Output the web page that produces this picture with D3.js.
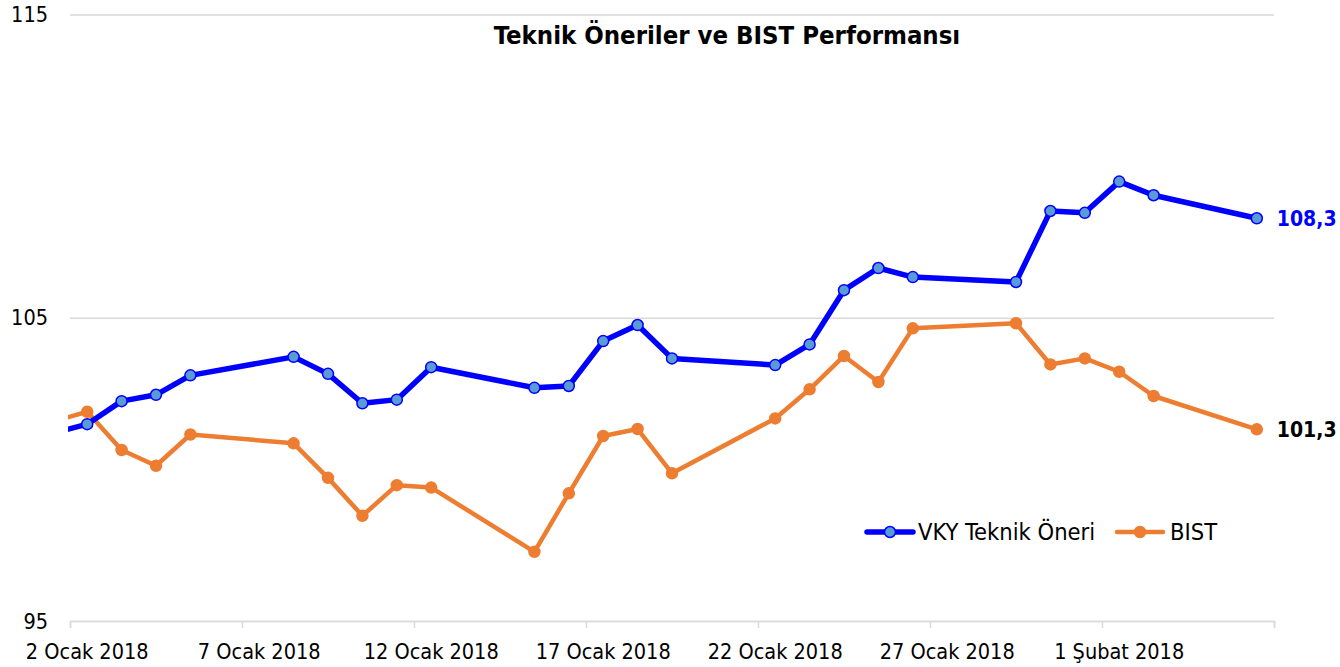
<!DOCTYPE html>
<html>
<head>
<meta charset="utf-8">
<script src="https://cdn.jsdelivr.net/npm/d3@7"></script>
<style>
  body { margin: 0; background: #fff; }
  svg text { font-family: "DejaVu Sans Condensed", "DejaVu Sans", sans-serif; fill: #000; }
</style>
</head>
<body>
<div id="graphic"></div>
<script>
// dates (trading days); the first one sits before the axis start and is clipped
const dates = ['2017-12-29', '2018-01-02', '2018-01-03', '2018-01-04', '2018-01-05',
	'2018-01-08', '2018-01-09', '2018-01-10', '2018-01-11', '2018-01-12',
	'2018-01-15', '2018-01-16', '2018-01-17', '2018-01-18', '2018-01-19',
	'2018-01-22', '2018-01-23', '2018-01-24', '2018-01-25', '2018-01-26',
	'2018-01-29', '2018-01-30', '2018-01-31', '2018-02-01', '2018-02-02',
	'2018-02-05'];

const vkyValues = [100.3, 101.49, 102.25, 102.46, 103.10,
	103.71, 103.15, 102.18, 102.30, 103.37,
	102.69, 102.75, 104.23, 104.76, 103.66,
	103.44, 104.12, 105.91, 106.64, 106.34,
	106.18, 108.52, 108.46, 109.49, 109.04,
	108.28];

const bistValues = [100.6, 101.90, 100.64, 100.12, 101.15,
	100.86, 99.72, 98.47, 99.48, 99.40,
	97.28, 99.21, 101.10, 101.33, 99.87,
	101.68, 102.64, 103.74, 102.88, 104.65,
	104.82, 103.46, 103.66, 103.22, 102.42,
	101.32];

const seriesNames = ['VKY Teknik Öneri', 'BIST'];
const yTicks = [95, 105, 115];
const xTickDates = ['2018-01-02', '2018-01-07', '2018-01-12', '2018-01-17', '2018-01-22', '2018-01-27', '2018-02-01'];
const monthNames = ['Ocak', 'Şubat', 'Mart', 'Nisan', 'Mayıs', 'Haziran', 'Temmuz', 'Ağustos', 'Eylül', 'Ekim', 'Kasım', 'Aralık'];
const chartTitle = 'Teknik Öneriler ve BIST Performansı';

const width = 1340, height = 667;
const margin = { top: 14.5, right: 66, bottom: 46, left: 70 };
const parseDate = d3.utcParse('%Y-%m-%d');
const halfDay = 12 * 3600 * 1000;

const graphicData = dates.map((d, i) => ({
	date: parseDate(d),
	vky: vkyValues[i],
	bist: bistValues[i]
}));

const svg = d3.select('#graphic')
	.append('svg')
	.attr('width', width)
	.attr('height', height);

const x = d3.scaleUtc()
	.domain([parseDate('2018-01-02'), parseDate('2018-02-06')])
	.range([margin.left, width - margin.right]);

const y = d3.scaleLinear()
	.domain([95, 115])
	.range([height - margin.bottom, margin.top]);

// grid lines
svg.append('g')
	.attr('class', 'grid')
	.attr('transform', `translate(${margin.left},0)`)
	.call(d3.axisLeft(y).tickValues(yTicks).tickSize(-(x.range()[1] - x.range()[0])).tickFormat(''))
	.call(g => g.select('.domain').remove())
	.call(g => g.selectAll('.tick line').attr('stroke', '#d9d9d9').attr('stroke-width', 1.5));

// y labels
svg.append('g')
	.selectAll('text')
	.data(yTicks)
	.join('text')
	.attr('x', 48)
	.attr('y', d => y(d))
	.attr('dy', '0.36em')
	.attr('text-anchor', 'end')
	.style('font-size', '21.5px')
	.text(d => d);

// x axis: tick marks on day boundaries, labels centred on the day slot
const xAxis = svg.append('g')
	.attr('class', 'x axis')
	.attr('transform', `translate(0,${y(95)})`);

xAxis.call(d3.axisBottom(x)
	.tickValues(xTickDates.map(parseDate).concat([parseDate('2018-02-06')]))
	.tickSize(7)
	.tickFormat(''))
	.call(g => g.select('.domain').attr('stroke', '#d9d9d9').attr('stroke-width', 1.5))
	.call(g => g.selectAll('.tick line').attr('stroke', '#d9d9d9').attr('stroke-width', 1.5));

xAxis.selectAll('text.xlabel')
	.data(xTickDates.map(parseDate))
	.join('text')
	.attr('class', 'xlabel')
	.attr('x', d => x(+d + halfDay))
	.attr('y', 38)
	.attr('text-anchor', 'middle')
	.style('font-size', '21.5px')
	.text(d => `${d.getUTCDate()} ${monthNames[d.getUTCMonth()]} ${d.getUTCFullYear()}`);

// clip so the pre-axis point is cut at the left edge
svg.append('clipPath')
	.attr('id', 'plot-clip')
	.append('rect')
	.attr('x', margin.left - 2)
	.attr('y', 0)
	.attr('width', x.range()[1] - x.range()[0] + 12)
	.attr('height', height);

const plot = svg.append('g').attr('clip-path', 'url(#plot-clip)');

const series = [
	{ key: 'bist', line: '#ED7D31', fill: '#ED7D31', stroke: '#ED7D31', width: 4.5, r: 5.5 },
	{ key: 'vky', line: '#0000FF', fill: '#5B9BD5', stroke: '#0000FF', width: 5.5, r: 5.5 }
];

series.forEach(s => {
	const lineGenerator = d3.line()
		.x(d => x(+d.date + halfDay))
		.y(d => y(d[s.key]));

	plot.append('path')
		.datum(graphicData)
		.attr('fill', 'none')
		.attr('stroke', s.line)
		.attr('stroke-width', s.width)
		.style('stroke-linejoin', 'round')
		.style('stroke-linecap', 'round')
		.attr('d', lineGenerator);

	plot.selectAll(`circle.${s.key}`)
		.data(graphicData.filter(d => d.date >= x.domain()[0]))
		.join('circle')
		.attr('class', s.key)
		.attr('cx', d => x(+d.date + halfDay))
		.attr('cy', d => y(d[s.key]))
		.attr('r', s.r)
		.attr('fill', s.fill)
		.attr('stroke', s.stroke)
		.attr('stroke-width', 1.5);
});

// end value labels
const last = graphicData[graphicData.length - 1];
const fmt = v => d3.format('.1f')(v).replace('.', ',');

svg.append('text')
	.attr('x', x(+last.date + halfDay) + 20)
	.attr('y', y(last.vky))
	.attr('dy', '0.36em')
	.style('font-size', '21px')
	.style('font-weight', 'bold')
	.style('fill', '#0000FF')
	.text(fmt(last.vky));

svg.append('text')
	.attr('x', x(+last.date + halfDay) + 20)
	.attr('y', y(last.bist))
	.attr('dy', '0.36em')
	.style('font-size', '21px')
	.style('font-weight', 'bold')
	.style('fill', '#000')
	.text(fmt(last.bist));

// title
svg.append('text')
	.attr('x', 727)
	.attr('y', 44)
	.attr('text-anchor', 'middle')
	.style('font-size', '25.5px')
	.style('font-weight', 'bold')
	.text(chartTitle);

// legend
const legendItems = [
	{ name: seriesNames[0], s: series[1], x0: 867, tx: 918 },
	{ name: seriesNames[1], s: series[0], x0: 1117, tx: 1170 }
];

const legend = svg.append('g').attr('class', 'legend');
legendItems.forEach(item => {
	const ly = 532;
	legend.append('line')
		.attr('x1', item.x0)
		.attr('x2', item.x0 + 46)
		.attr('y1', ly)
		.attr('y2', ly)
		.attr('stroke', item.s.line)
		.attr('stroke-width', item.s.width)
		.attr('stroke-linecap', 'round');
	legend.append('circle')
		.attr('cx', item.x0 + 23)
		.attr('cy', ly)
		.attr('r', item.s.r)
		.attr('fill', item.s.fill)
		.attr('stroke', item.s.stroke)
		.attr('stroke-width', 1.5);
	legend.append('text')
		.attr('x', item.tx)
		.attr('y', ly)
		.attr('dy', '0.36em')
		.style('font-size', '23.5px')
		.text(item.name);
});
</script>
</body>
</html>
